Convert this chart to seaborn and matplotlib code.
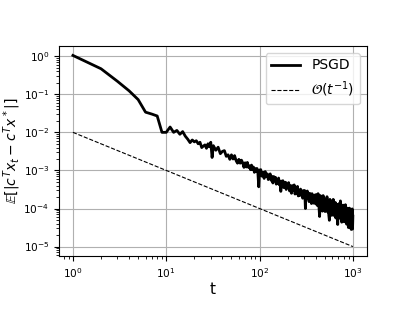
import numpy as np
import pandas as pd
import matplotlib
matplotlib.use("Agg")
import matplotlib.pyplot as plt
import seaborn as sns

t_early = list(range(1, 32))
t_mid = list(range(32, 101, 2))
t_103_199 = list(range(103, 200, 3))
t_205_400 = list(range(205, 401, 5))
t_late = list(range(408, 1001, 8))

# log10 of E[|c^T x_t - c^T x^*|]
log_err_early = [0.02, -0.33, -0.66, -0.91, -1.14, -1.47, -1.52, -1.57, -2.00, -2.00,
                 -1.86, -2.00, -1.95, -2.05, -1.98, -2.10, -2.18, -2.27, -2.20, -2.25,
                 -2.22, -2.30, -2.26, -2.40, -2.36, -2.33, -2.42, -2.30, -2.38, -2.26,
                 -2.66]
log_err_mid = [-2.35, -2.47, -2.39, -2.56, -2.50, -2.48, -2.63, -2.59, -2.71, -2.59,
               -2.70, -2.61, -2.74, -2.81, -2.71, -2.81, -2.73, -2.80, -2.92, -2.80,
               -2.91, -2.79, -2.92, -2.88, -2.98, -2.86, -2.98, -2.91, -3.05, -2.95,
               -3.02, -2.95, -3.07, -3.43, -2.99]
log_err_103_199 = [-2.98, -3.15, -3.05, -3.21, -3.03, -3.16, -3.09, -3.24, -3.15, -3.09,
                   -3.26, -3.16, -3.33, -3.16, -3.27, -3.18, -3.36, -3.25, -3.34, -3.20,
                   -3.38, -3.28, -3.55, -3.28, -3.39, -3.27, -3.45, -3.36, -3.44, -3.31,
                   -3.50, -3.36, -3.45]
log_err_205_400 = [-3.32, -3.54, -3.40, -3.60, -3.40, -3.53, -3.38, -3.62, -3.50, -3.61,
                   -3.42, -3.67, -3.52, -3.66, -3.49, -3.62, -3.54, -3.73, -3.53, -3.68,
                   -3.53, -4.00, -3.60, -3.75, -3.54, -3.74, -3.65, -3.82, -3.60, -3.74,
                   -3.64, -3.87, -3.61, -3.81, -3.70, -3.86, -3.67, -3.81, -3.64, -3.88]
log_err_late = [-3.64, -3.92, -3.61, -3.90, -4.21, -3.66, -4.00, -3.76, -4.07, -3.66,
                -3.94, -3.75, -4.08, -3.83, -4.04, -3.69, -4.09, -3.88, -4.17, -4.31,
                -3.76, -4.07, -3.83, -4.18, -3.88, -4.07, -3.76, -4.18, -3.98, -4.16,
                -3.84, -4.25, -3.96, -4.11, -3.89, -4.42, -3.95, -4.23, -3.87, -4.18,
                -4.04, -3.80, -4.28, -3.98, -4.36, -3.96, -4.17, -3.91, -4.28, -4.07,
                -4.35, -3.97, -4.27, -3.90, -4.33, -4.08, -4.41, -4.04, -4.27, -3.99,
                -4.39, -4.50, -4.06, -4.33, -3.99, -4.49, -4.12, -4.38, -4.04, -4.55,
                -4.08, -4.34, -4.01, -4.54, -4.20]

# reference O(1/t) line
t_ref = [1, 10, 100, 1000]
err_ref = [1e-2, 1e-3, 1e-4, 1e-5]

t_all = t_early + t_mid + t_103_199 + t_205_400 + t_late
log_all = log_err_early + log_err_mid + log_err_103_199 + log_err_205_400 + log_err_late
df = pd.DataFrame({"t": t_all, "err": 10.0 ** np.array(log_all)})

fig = plt.figure(figsize=(4.15, 3.12), dpi=100)
ax = fig.add_axes([0.142, 0.179, 0.742, 0.674])

sns.lineplot(data=df, x="t", y="err", ax=ax, color="black", linewidth=2.0,
             estimator=None, sort=False, label="PSGD")
sns.lineplot(x=t_ref, y=err_ref, ax=ax, color="black", linewidth=0.8,
             linestyle="--", estimator=None, label=r"$\mathcal{O}(t^{-1})$")

ax.set_xscale("log")
ax.set_yscale("log")
ax.grid(True, which="major", color="#b0b0b0", linewidth=0.8)
ax.set_xlabel("t", fontsize=11, labelpad=2)
ax.set_ylabel(r"$\mathbb{E}[|c^Tx_t - c^Tx^*|]$", fontsize=10)
ax.yaxis.set_label_coords(-0.116, 0.5)
ax.tick_params(labelsize=7.6)
ax.legend(loc="upper right", fontsize=10, handlelength=2.1)

fig.savefig("out.png", dpi=100)
